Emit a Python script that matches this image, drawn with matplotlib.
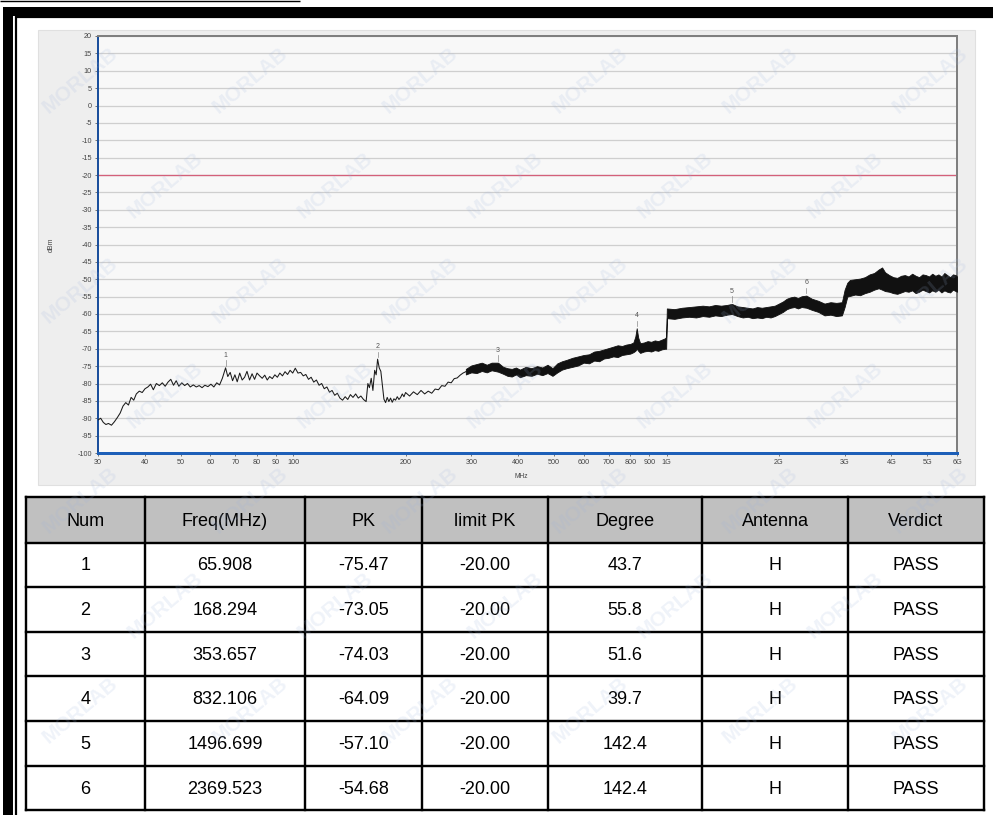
import matplotlib
matplotlib.use("Agg")
import matplotlib.pyplot as plt
from matplotlib.patches import Rectangle
from matplotlib.ticker import FixedLocator, NullLocator

plt.rcParams['font.family'] = ['Liberation Sans', 'DejaVu Sans']

# ---------------- data ----------------
# Low band sweep (MHz, dBm)
low_freq = [30.0, 30.5, 31.0, 31.5, 32.0, 32.6, 33.2, 33.8, 34.4, 35.0, 35.6, 36.2, 36.8, 37.4,
            38.0, 38.7, 39.4, 40.1, 40.8, 41.5, 42.2, 43.0, 43.8, 44.6, 45.4, 46.2, 47.0, 47.8,
            48.6, 49.4, 50.3, 51.2, 52.1, 53.0, 54.0, 55.0, 56.0, 57.0, 58.0, 59.1, 60.2, 61.3,
            62.4, 63.5, 64.6, 65.9, 66.8, 67.8, 68.8, 69.8, 70.8, 71.9, 73.0, 74.1, 75.2, 76.4,
            77.6, 78.8, 80.0, 81.3, 82.6, 83.9, 85.2, 86.5, 87.9, 89.3, 90.7, 92.1, 93.6, 95.1,
            96.6, 98.1, 99.7, 101.3, 103.0, 104.7, 106.4, 108.1, 109.9, 111.7, 113.5, 115.4,
            117.3, 119.2, 121.1, 123.1, 125.1, 127.1, 129.2, 131.3, 133.4, 135.6, 137.8, 140.0,
            142.3, 144.6, 147.0, 149.4, 151.8, 154.3, 156.8, 158.5, 160.0, 161.8, 163.5, 165.3,
            166.8, 168.3, 170.0, 171.7, 173.4, 175.0, 176.8, 178.6, 180.4, 182.3, 184.2, 186.1,
            188.0, 190.0, 192.0, 194.0, 196.0, 198.0, 200.0, 205.0, 210.0, 215.0, 220.0, 225.0,
            230.0, 235.0, 240.0, 245.0, 250.0, 255.0, 260.0, 265.0, 270.0, 275.0, 280.0, 285.0,
            290.0, 295.0]
low_level = [-90.5, -90.0, -91.2, -91.8, -91.5, -92.0, -91.0, -89.8, -88.5, -86.5, -85.5, -86.2,
             -84.0, -84.8, -83.0, -82.2, -82.6, -81.5, -81.0, -80.2, -81.8, -80.0, -80.6, -79.8,
             -80.8, -79.6, -78.8, -80.5, -79.2, -80.8, -79.8, -80.6, -80.0, -81.0, -80.4, -81.0,
             -80.6, -81.2, -80.5, -80.9, -80.2, -81.0, -79.8, -80.4, -78.5, -75.5, -78.0, -76.8,
             -79.2, -77.5, -79.5, -77.0, -79.0, -78.2, -76.5, -79.0, -77.2, -78.8, -77.0, -77.8,
             -78.5, -77.6, -79.0, -78.0, -78.6, -77.5, -78.2, -77.0, -77.8, -76.6, -77.4, -76.2,
             -77.0, -75.6, -77.0, -76.8, -77.8, -77.4, -78.8, -78.2, -79.6, -79.0, -80.5, -80.0,
             -81.5, -81.0, -82.5, -82.0, -83.4, -82.8, -84.2, -84.8, -83.8, -84.6, -83.2, -84.0,
             -83.0, -84.2, -83.6, -84.6, -85.2, -80.0, -81.2, -78.5, -82.0, -76.2, -77.5, -73.0,
             -75.5, -76.5, -80.5, -84.5, -85.5, -84.0, -85.2, -84.2, -85.4, -84.4, -84.8, -83.8,
             -84.6, -84.0, -83.0, -83.8, -82.6, -83.6, -82.4, -83.2, -82.0, -83.0, -82.2, -82.8,
             -81.6, -81.8, -80.6, -80.8, -79.6, -79.8, -78.6, -78.4, -77.6, -77.0, -76.6, -76.0]

# Upper band sweep: lower / upper envelope of the trace (MHz, dBm)
band_freq = [290, 300, 310, 320, 330, 340, 353.7, 365, 375, 385, 395, 405, 420, 435, 450, 465,
             480, 495, 510, 525, 540, 560, 580, 600, 620, 640, 660, 680, 700, 720, 740, 760, 780,
             800, 815, 825, 832.1, 840, 850, 870, 890, 910, 930, 950, 970, 990, 998, 1002, 1050,
             1100, 1150, 1200, 1250, 1300, 1350, 1400, 1450, 1496.7, 1550, 1600, 1650, 1700, 1750,
             1800, 1850, 1900, 1950, 2000, 2050, 2100, 2150, 2200, 2250, 2300, 2369.5, 2450, 2550,
             2650, 2750, 2850, 2950, 3000, 3050, 3100, 3200, 3300, 3400, 3500, 3600, 3700, 3780,
             3850, 3950, 4050, 4150, 4250, 4350, 4450, 4550, 4650, 4750, 4850, 4950, 5050, 5150,
             5250, 5350, 5450, 5550, 5650, 5750, 5850, 5950, 6000]
band_lo = [-77.4, -76.8, -77.0, -76.4, -76.8, -76.2, -76.6, -77.2, -77.8, -78.0, -77.4, -78.2,
           -77.6, -77.8, -77.2, -77.6, -77.0, -77.8, -76.8, -76.0, -75.6, -75.2, -74.8, -74.0,
           -74.2, -73.4, -73.6, -72.8, -72.6, -72.2, -72.4, -71.8, -71.6, -71.4, -71.0, -70.6,
           -70.0, -70.6, -71.2, -70.8, -70.6, -70.8, -70.4, -70.6, -70.2, -70.0, -70.0, -61.2,
           -61.4, -61.0, -60.8, -61.0, -60.6, -60.8, -60.4, -60.6, -60.2, -60.0, -60.6, -61.0,
           -60.8, -61.2, -61.0, -61.2, -60.8, -61.0, -60.6, -60.0, -59.4, -58.6, -58.2, -58.0,
           -58.4, -58.0, -58.2, -58.8, -59.4, -60.4, -60.2, -60.6, -60.4, -58.0, -55.0, -54.8,
           -54.4, -54.6, -54.0, -53.6, -53.0, -52.6, -53.0, -53.4, -53.6, -54.0, -54.2, -53.8,
           -53.4, -53.6, -53.2, -54.0, -53.6, -53.0, -53.4, -53.8, -53.2, -53.6, -53.0, -53.8,
           -53.2, -53.6, -53.8, -53.0, -53.4, -53.6]
band_hi = [-75.8, -74.8, -74.4, -74.0, -74.6, -74.0, -74.0, -75.2, -75.6, -75.8, -75.4, -76.0,
           -75.2, -75.6, -75.0, -75.4, -74.6, -75.6, -74.2, -73.6, -73.2, -72.6, -72.2, -71.8,
           -71.6, -70.8, -70.6, -70.2, -69.8, -69.4, -69.0, -69.2, -68.8, -68.6, -68.2, -66.5,
           -64.1, -66.8, -68.4, -68.2, -67.8, -68.0, -67.6, -67.8, -67.4, -67.0, -66.6, -58.4,
           -58.6, -58.2, -58.0, -57.8, -57.6, -57.8, -57.4, -57.6, -57.4, -57.1, -57.8, -58.0,
           -58.2, -58.4, -58.0, -58.2, -58.0, -57.8, -57.6, -57.0, -56.4, -55.6, -55.2, -55.0,
           -55.4, -54.9, -54.7, -55.6, -56.2, -57.0, -56.6, -56.8, -56.6, -53.0, -51.0, -50.2,
           -50.0, -49.8, -49.4, -48.6, -48.2, -47.2, -46.6, -48.0, -48.8, -49.4, -49.6, -49.0,
           -48.8, -49.2, -48.4, -49.0, -49.4, -48.6, -48.8, -49.2, -48.4, -49.0, -48.6, -49.2,
           -48.2, -48.8, -49.4, -48.6, -48.8, -49.2]

limit_level = -20.0

# Marker table
marker_num = [1, 2, 3, 4, 5, 6]
marker_freq = [65.908, 168.294, 353.657, 832.106, 1496.699, 2369.523]
marker_pk = [-75.47, -73.05, -74.03, -64.09, -57.10, -54.68]
marker_limit = [-20.00, -20.00, -20.00, -20.00, -20.00, -20.00]
marker_degree = [43.7, 55.8, 51.6, 39.7, 142.4, 142.4]
marker_antenna = ['H', 'H', 'H', 'H', 'H', 'H']
marker_verdict = ['PASS', 'PASS', 'PASS', 'PASS', 'PASS', 'PASS']
table_header = ['Num', 'Freq(MHz)', 'PK', 'limit PK', 'Degree', 'Antenna', 'Verdict']

y_ticks = list(range(-100, 21, 5))
x_ticks = [30, 40, 50, 60, 70, 80, 90, 100, 200, 300, 400, 500, 600, 700, 800, 900,
           1000, 2000, 3000, 4000, 5000, 6000]
x_tick_labels = ['30', '40', '50', '60', '70', '80', '90', '100', '200', '300', '400', '500',
                 '600', '700', '800', '900', '1G', '2G', '3G', '4G', '5G', '6G']

# ---------------- figure ----------------
W, H = 993, 815
fig = plt.figure(figsize=(W / 100, H / 100), dpi=100)
fig.patch.set_facecolor('white')


def lw(pixels):
    return pixels * 0.72


bg = fig.add_axes([0, 0, 1, 1], zorder=0)
bg.set_xlim(0, W)
bg.set_ylim(H, 0)
bg.axis('off')

# page frame
bg.plot([0, 300], [0.7, 0.7], color='black', lw=lw(1.4), solid_capstyle='butt')
bg.add_patch(Rectangle((3, 7), W - 3, 8.5, fc='black', ec='none'))
bg.add_patch(Rectangle((3, 7), 10, H - 7, fc='black', ec='none'))
bg.plot([15, W], [17.3, 17.3], color='black', lw=lw(2.2), solid_capstyle='butt')
bg.plot([15.8, 15.8], [16.2, H], color='black', lw=lw(2.2), solid_capstyle='butt')

# chart panel
bg.add_patch(Rectangle((38, 30), 937, 455, fc='#eeeeee', ec='#e0e0e0', lw=0.8))
bg.text(51, 245, 'dBm', rotation=90, fontsize=5, color='#444444', ha='center', va='center')
bg.text(521, 477, 'MHz', fontsize=4.8, color='#444444', ha='center', va='center')

# ---------------- spectrum axes ----------------
ax = fig.add_axes([98 / W, 1 - 453 / H, 859 / W, 417 / H], zorder=2)
ax.set_facecolor('#f8f8f8')
ax.set_xscale('log')
ax.set_xlim(30, 6000)
ax.set_ylim(-100, 20)
ax.xaxis.set_major_locator(FixedLocator(x_ticks))
ax.xaxis.set_minor_locator(NullLocator())
ax.set_xticklabels(x_tick_labels)
ax.set_yticks(y_ticks)
ax.set_yticklabels([str(v) for v in y_ticks])
ax.tick_params(axis='both', labelsize=5.2, colors='#444444', length=2.5, width=0.5, pad=2)
ax.yaxis.grid(True, color='#cfcfcf', lw=0.9)
ax.xaxis.grid(False)
ax.set_axisbelow(True)
for side, col, w in [('left', '#1b4f9c', 2.0), ('bottom', '#1d5fb8', 3.0),
                     ('top', '#7f7f7f', 2.0), ('right', '#7f7f7f', 2.0)]:
    ax.spines[side].set_color(col)
    ax.spines[side].set_linewidth(lw(w))

ax.axhline(limit_level, color='#d4607a', lw=lw(1.3), zorder=2)
ax.plot(low_freq, low_level, color='#1a1a1a', lw=0.75, zorder=3)
ax.fill_between(band_freq, band_lo, band_hi, color='#111111', edgecolor='#111111',
                lw=0.6, zorder=3)

for n, f, p in zip(marker_num, marker_freq, marker_pk):
    ax.plot([f, f], [p + 0.6, p + 2.2], color='#888888', lw=0.5, zorder=4)
    ax.text(f, p + 2.6, str(n), fontsize=5, color='#555555', ha='center', va='bottom', zorder=4)

# ---------------- marker table ----------------
col_edges = [26, 145, 305, 422, 548, 702, 848, 984]
row_edges = [497, 543, 587, 632, 676, 721, 766, 810]

bg.add_patch(Rectangle((col_edges[0], row_edges[0]), col_edges[-1] - col_edges[0],
                       row_edges[1] - row_edges[0], fc='#c0c0c0', ec='none'))
for xe in col_edges:
    bg.plot([xe, xe], [row_edges[0], row_edges[-1]], color='black', lw=lw(2.4),
            solid_capstyle='projecting')
for ye in row_edges:
    bg.plot([col_edges[0], col_edges[-1]], [ye, ye], color='black', lw=lw(2.4),
            solid_capstyle='projecting')

rows = [table_header]
for i in range(len(marker_num)):
    rows.append([str(marker_num[i]), f'{marker_freq[i]:.3f}', f'{marker_pk[i]:.2f}',
                 f'{marker_limit[i]:.2f}', f'{marker_degree[i]:.1f}', marker_antenna[i],
                 marker_verdict[i]])
for r, cells in enumerate(rows):
    yc = (row_edges[r] + row_edges[r + 1]) / 2
    for c, txt in enumerate(cells):
        xc = (col_edges[c] + col_edges[c + 1]) / 2
        bg.text(xc, yc + 1, txt, fontsize=13, color='black', ha='center', va='center')

# ---------------- watermark ----------------
wm = fig.add_axes([0, 0, 1, 1], zorder=5)
wm.set_xlim(0, W)
wm.set_ylim(H, 0)
wm.axis('off')
wm.patch.set_alpha(0)
for j, yy in enumerate(range(80, 780, 105)):
    shift = 85 if j % 2 else 0
    for xx in range(80 + shift, 940, 170):
        wm.text(xx, yy, 'MORLAB', rotation=40, fontsize=15, fontweight='bold',
                color='#9db3dc', alpha=0.16, ha='center', va='center')

fig.savefig('out.png', dpi=100)
